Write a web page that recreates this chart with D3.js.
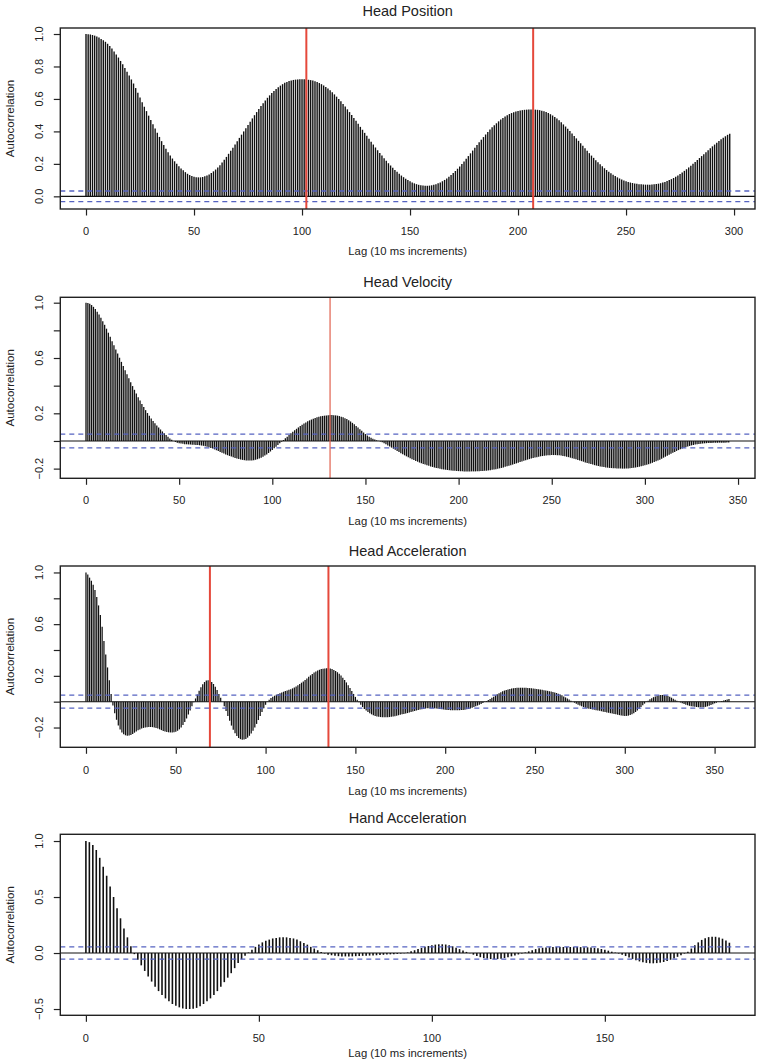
<!DOCTYPE html>
<html><head><meta charset="utf-8">
<script src="https://cdn.jsdelivr.net/npm/d3@7"></script>
<style>
body{margin:0;background:#fff}
svg{display:block}
text{font-family:"Liberation Sans",Arial,sans-serif;fill:#222}
</style>
</head><body>
<svg id="chart" width="759" height="1063"></svg>
<script>
// ---------- DATA (autocorrelation per lag, lag = index) ----------
const headPosition = [
1.000,0.999,0.997,0.994,0.990,0.985,0.978,0.970,0.962,0.952,
0.940,0.926,0.910,0.893,0.874,0.855,0.834,0.813,0.791,0.768,
0.744,0.720,0.695,0.667,0.638,0.609,0.580,0.552,0.525,0.497,
0.470,0.444,0.418,0.392,0.366,0.340,0.316,0.293,0.272,0.252,
0.233,0.216,0.200,0.186,0.172,0.160,0.149,0.139,0.131,0.125,
0.121,0.118,0.117,0.117,0.119,0.123,0.128,0.135,0.144,0.154,
0.165,0.178,0.192,0.208,0.225,0.243,0.262,0.281,0.300,0.320,
0.340,0.360,0.380,0.400,0.420,0.440,0.460,0.480,0.500,0.519,
0.538,0.556,0.574,0.591,0.607,0.622,0.636,0.649,0.661,0.672,
0.682,0.691,0.699,0.705,0.710,0.714,0.717,0.719,0.720,0.721,
0.721,0.721,0.720,0.718,0.716,0.713,0.709,0.704,0.698,0.691,
0.683,0.674,0.664,0.653,0.641,0.628,0.614,0.600,0.585,0.569,
0.553,0.536,0.519,0.501,0.483,0.465,0.447,0.428,0.410,0.391,
0.373,0.355,0.337,0.319,0.301,0.284,0.267,0.251,0.235,0.219,
0.204,0.190,0.176,0.163,0.151,0.139,0.128,0.118,0.109,0.100,
0.093,0.086,0.080,0.075,0.071,0.068,0.066,0.065,0.065,0.066,
0.068,0.071,0.075,0.080,0.086,0.093,0.101,0.110,0.120,0.131,
0.143,0.156,0.170,0.184,0.199,0.215,0.231,0.248,0.265,0.282,
0.299,0.316,0.333,0.349,0.365,0.381,0.396,0.411,0.425,0.438,
0.450,0.462,0.473,0.483,0.492,0.500,0.507,0.513,0.518,0.522,
0.526,0.529,0.531,0.533,0.534,0.535,0.535,0.535,0.534,0.533,
0.531,0.528,0.524,0.519,0.513,0.506,0.498,0.489,0.479,0.468,
0.456,0.443,0.430,0.416,0.402,0.387,0.372,0.357,0.342,0.327,
0.311,0.296,0.281,0.266,0.251,0.237,0.223,0.210,0.197,0.185,
0.173,0.162,0.152,0.142,0.133,0.125,0.117,0.110,0.104,0.098,
0.093,0.089,0.085,0.082,0.079,0.077,0.075,0.074,0.073,0.072,
0.072,0.072,0.073,0.074,0.076,0.078,0.081,0.085,0.089,0.094,
0.100,0.106,0.113,0.121,0.129,0.138,0.147,0.157,0.167,0.178,
0.189,0.200,0.212,0.224,0.236,0.248,0.260,0.272,0.284,0.296,
0.308,0.319,0.330,0.341,0.351,0.361,0.370,0.379,0.385
];

const headVelocity = [
1.000,0.998,0.992,0.983,0.970,0.954,0.935,0.914,0.891,0.866,
0.840,0.812,0.783,0.753,0.722,0.692,0.662,0.632,0.602,0.572,
0.542,0.512,0.483,0.454,0.425,0.397,0.370,0.343,0.317,0.292,
0.268,0.245,0.223,0.202,0.182,0.163,0.145,0.128,0.112,0.097,
0.083,0.069,0.056,0.043,0.030,0.018,0.008,0.000,-0.007,-0.012,
-0.016,-0.019,-0.021,-0.023,-0.024,-0.025,-0.026,-0.027,-0.028,-0.029,
-0.030,-0.031,-0.033,-0.035,-0.038,-0.041,-0.045,-0.050,-0.055,-0.061,
-0.067,-0.073,-0.079,-0.085,-0.091,-0.097,-0.103,-0.108,-0.113,-0.118,
-0.123,-0.127,-0.131,-0.134,-0.137,-0.139,-0.141,-0.142,-0.142,-0.141,
-0.139,-0.136,-0.132,-0.127,-0.121,-0.114,-0.106,-0.097,-0.087,-0.076,
-0.065,-0.053,-0.041,-0.029,-0.017,-0.005,0.007,0.019,0.031,0.043,
0.055,0.066,0.077,0.088,0.098,0.108,0.117,0.126,0.134,0.142,
0.149,0.155,0.161,0.166,0.171,0.175,0.178,0.181,0.183,0.185,
0.186,0.187,0.187,0.186,0.185,0.183,0.180,0.176,0.171,0.165,
0.158,0.150,0.141,0.131,0.120,0.109,0.097,0.085,0.073,0.061,
0.050,0.040,0.031,0.023,0.016,0.010,0.005,0.001,-0.004,-0.010,
-0.017,-0.024,-0.032,-0.040,-0.048,-0.056,-0.064,-0.072,-0.080,-0.088,
-0.096,-0.104,-0.111,-0.118,-0.125,-0.132,-0.138,-0.144,-0.150,-0.156,
-0.161,-0.166,-0.171,-0.176,-0.180,-0.184,-0.188,-0.192,-0.195,-0.198,
-0.201,-0.204,-0.206,-0.208,-0.210,-0.212,-0.214,-0.215,-0.216,-0.217,
-0.218,-0.219,-0.219,-0.220,-0.220,-0.220,-0.220,-0.220,-0.220,-0.220,
-0.219,-0.219,-0.218,-0.217,-0.216,-0.215,-0.213,-0.211,-0.209,-0.207,
-0.204,-0.201,-0.198,-0.195,-0.191,-0.187,-0.183,-0.179,-0.175,-0.171,
-0.166,-0.162,-0.157,-0.152,-0.148,-0.143,-0.139,-0.135,-0.131,-0.127,
-0.123,-0.120,-0.117,-0.114,-0.111,-0.109,-0.107,-0.105,-0.104,-0.103,
-0.102,-0.102,-0.102,-0.103,-0.104,-0.106,-0.108,-0.111,-0.114,-0.117,
-0.121,-0.125,-0.129,-0.133,-0.137,-0.141,-0.146,-0.150,-0.155,-0.159,
-0.163,-0.167,-0.171,-0.175,-0.178,-0.181,-0.184,-0.187,-0.189,-0.191,
-0.193,-0.195,-0.196,-0.197,-0.198,-0.199,-0.199,-0.200,-0.200,-0.200,
-0.199,-0.199,-0.198,-0.196,-0.194,-0.192,-0.189,-0.186,-0.183,-0.180,
-0.176,-0.172,-0.168,-0.163,-0.158,-0.153,-0.147,-0.141,-0.135,-0.128,
-0.121,-0.114,-0.107,-0.100,-0.093,-0.086,-0.079,-0.072,-0.066,-0.060,
-0.054,-0.049,-0.044,-0.040,-0.036,-0.032,-0.029,-0.026,-0.024,-0.022,
-0.020,-0.018,-0.017,-0.016,-0.015,-0.014,-0.014,-0.013,-0.013,-0.013,
-0.012,-0.012,-0.012,-0.012,-0.011,-0.011
];

const headAcceleration = [
1.000,0.985,0.960,0.935,0.905,0.865,0.810,0.745,0.670,0.580,
0.470,0.365,0.265,0.165,0.060,-0.030,-0.090,-0.140,-0.185,-0.215,
-0.238,-0.252,-0.260,-0.263,-0.262,-0.258,-0.250,-0.240,-0.230,-0.222,
-0.215,-0.208,-0.203,-0.199,-0.197,-0.196,-0.196,-0.197,-0.199,-0.203,
-0.208,-0.214,-0.220,-0.226,-0.231,-0.235,-0.237,-0.238,-0.238,-0.236,
-0.232,-0.225,-0.214,-0.199,-0.180,-0.157,-0.130,-0.100,-0.068,-0.035,
-0.005,0.025,0.055,0.085,0.112,0.135,0.152,0.163,0.166,0.163,
0.153,0.137,0.115,0.090,0.060,0.030,0.000,-0.035,-0.072,-0.110,
-0.148,-0.185,-0.218,-0.245,-0.266,-0.281,-0.290,-0.294,-0.293,-0.288,
-0.278,-0.264,-0.246,-0.225,-0.200,-0.172,-0.142,-0.111,-0.080,-0.050,
-0.024,-0.002,0.015,0.028,0.038,0.046,0.053,0.059,0.065,0.071,
0.077,0.082,0.087,0.092,0.097,0.103,0.110,0.118,0.127,0.137,
0.147,0.157,0.168,0.180,0.192,0.204,0.215,0.225,0.234,0.241,
0.247,0.252,0.255,0.257,0.258,0.258,0.256,0.252,0.246,0.238,
0.228,0.216,0.202,0.186,0.168,0.149,0.128,0.106,0.083,0.060,
0.037,0.015,-0.005,-0.024,-0.041,-0.056,-0.069,-0.080,-0.090,-0.098,
-0.105,-0.110,-0.114,-0.117,-0.119,-0.120,-0.121,-0.121,-0.120,-0.119,
-0.117,-0.115,-0.112,-0.109,-0.105,-0.102,-0.098,-0.095,-0.091,-0.088,
-0.084,-0.080,-0.076,-0.072,-0.068,-0.064,-0.061,-0.058,-0.055,-0.053,
-0.051,-0.050,-0.050,-0.050,-0.051,-0.052,-0.054,-0.056,-0.058,-0.060,
-0.062,-0.064,-0.065,-0.066,-0.067,-0.067,-0.067,-0.067,-0.066,-0.065,
-0.064,-0.062,-0.059,-0.056,-0.052,-0.047,-0.042,-0.036,-0.030,-0.024,
-0.017,-0.010,-0.003,0.005,0.013,0.021,0.030,0.039,0.048,0.057,
0.065,0.073,0.080,0.086,0.091,0.095,0.099,0.102,0.104,0.106,
0.107,0.108,0.108,0.108,0.108,0.107,0.106,0.105,0.104,0.102,
0.100,0.098,0.096,0.094,0.092,0.089,0.087,0.084,0.081,0.078,
0.075,0.071,0.067,0.062,0.056,0.049,0.041,0.033,0.025,0.016,
0.008,0.000,-0.008,-0.016,-0.023,-0.030,-0.036,-0.041,-0.046,-0.050,
-0.054,-0.057,-0.060,-0.063,-0.066,-0.069,-0.071,-0.074,-0.077,-0.080,
-0.083,-0.086,-0.089,-0.092,-0.095,-0.098,-0.101,-0.104,-0.107,-0.109,
-0.110,-0.110,-0.108,-0.104,-0.098,-0.090,-0.080,-0.068,-0.055,-0.041,
-0.028,-0.015,-0.003,0.008,0.018,0.027,0.035,0.041,0.046,0.049,
0.051,0.052,0.051,0.048,0.044,0.038,0.031,0.023,0.015,0.008,
0.001,-0.006,-0.012,-0.018,-0.023,-0.028,-0.032,-0.035,-0.038,-0.040,
-0.042,-0.043,-0.044,-0.044,-0.043,-0.040,-0.036,-0.031,-0.025,-0.019,
-0.013,-0.008,-0.003,0.001,0.005,0.009,0.013,0.017,0.021
];

const handAcceleration = [
1.00,0.99,0.965,0.92,0.85,0.77,0.69,0.595,0.50,0.40,
0.31,0.22,0.14,0.06,-0.01,-0.06,-0.11,-0.16,-0.21,-0.255,
-0.30,-0.34,-0.375,-0.405,-0.43,-0.455,-0.47,-0.485,-0.495,-0.50,
-0.50,-0.497,-0.49,-0.475,-0.455,-0.43,-0.405,-0.375,-0.34,-0.30,
-0.26,-0.22,-0.18,-0.135,-0.09,-0.055,-0.025,0.005,0.03,0.055,
0.075,0.095,0.11,0.12,0.13,0.135,0.14,0.14,0.14,0.135,
0.13,0.12,0.105,0.09,0.075,0.055,0.04,0.025,0.01,-0.005,
-0.015,-0.02,-0.025,-0.028,-0.03,-0.03,-0.03,-0.03,-0.028,-0.027,
-0.025,-0.024,-0.023,-0.022,-0.02,-0.018,-0.016,-0.014,-0.012,-0.01,
-0.008,-0.005,-0.002,0.005,0.015,0.025,0.035,0.045,0.055,0.063,
0.07,0.075,0.078,0.078,0.076,0.07,0.06,0.048,0.035,0.022,
0.01,-0.002,-0.015,-0.027,-0.037,-0.045,-0.05,-0.054,-0.055,-0.054,
-0.05,-0.045,-0.038,-0.03,-0.022,-0.013,-0.005,0.005,0.015,0.025,
0.035,0.042,0.047,0.05,0.052,0.053,0.054,0.054,0.054,0.054,
0.054,0.054,0.053,0.053,0.052,0.051,0.049,0.046,0.042,0.036,
0.029,0.021,0.012,0.004,-0.005,-0.015,-0.027,-0.04,-0.053,-0.065,
-0.075,-0.083,-0.088,-0.091,-0.092,-0.09,-0.086,-0.08,-0.071,-0.06,
-0.048,-0.034,-0.02,-0.005,0.012,0.04,0.07,0.095,0.117,0.132,
0.142,0.146,0.145,0.139,0.128,0.112,0.092
];

const panelTitles = ["Head Position","Head Velocity","Head Acceleration","Hand Acceleration"];
const xAxisTitle = "Lag (10 ms increments)";
const yAxisTitle = "Autocorrelation";

const xTicks1 = [0,50,100,150,200,250,300];
const xTicks2 = [0,50,100,150,200,250,300,350];
const xTicks3 = [0,50,100,150,200,250,300,350];
const xTicks4 = [0,50,100,150];

const yTicks1 = [0,0.2,0.4,0.6,0.8,1.0];
const yTickLabels1 = ["0.0","0.2","0.4","0.6","0.8","1.0"];
const yTicks2 = [-0.2,0,0.2,0.4,0.6,0.8,1.0];
const yTickLabels2 = ["\u22120.2","","0.2","","0.6","","1.0"];
const yTicks3 = [-0.2,0,0.2,0.4,0.6,0.8,1.0];
const yTickLabels3 = ["\u22120.2","","0.2","","0.6","","1.0"];
const yTicks4 = [-0.5,0,0.5,1.0];
const yTickLabels4 = ["\u22120.5","0.0","0.5","1.0"];

const peakLags1 = [102,207];
const peakLags2 = [131];
const peakLags3 = [69,135];
const peakLags4 = [];

const ciBound1 = 0.033, ciBound2 = 0.05, ciBound3 = 0.05, ciBound4 = 0.055;

// ---------- LAYOUT ----------
const plotLeft = 60.3, plotRight = 755;
const panels = [
  {title:panelTitles[0], values:headPosition, xTicks:xTicks1, yTicks:yTicks1, yLabels:yTickLabels1, peaks:peakLags1, ci:ciBound1,
   top:28, bottom:209, xDom:[-11.9,309.7], yDom:[-0.078,1.037], barW:1.4, redW:2.0, redC:"#e5483b", titleY:11, tickY:231, labY:251.5},
  {title:panelTitles[1], values:headVelocity, xTicks:xTicks2, yTicks:yTicks2, yLabels:yTickLabels2, peaks:peakLags2, ci:ciBound2,
   top:297.3, bottom:478.3, xDom:[-13.8,359.1], yDom:[-0.270,1.039], barW:1.3, redW:1.2, redC:"#e0604f", titleY:281.7, tickY:500, labY:521},
  {title:panelTitles[2], values:headAcceleration, xTicks:xTicks3, yTicks:yTicks3, yLabels:yTickLabels3, peaks:peakLags3, ci:ciBound3,
   top:566, bottom:747.3, xDom:[-14.3,372.5], yDom:[-0.353,1.050], barW:1.25, redW:2.0, redC:"#e5483b", titleY:550.7, tickY:770, labY:791},
  {title:panelTitles[3], values:handAcceleration, xTicks:xTicks4, yTicks:yTicks4, yLabels:yTickLabels4, peaks:peakLags4, ci:ciBound4,
   top:834.3, bottom:1015.3, xDom:[-7.4,193.4], yDom:[-0.556,1.060], barW:1.6, redW:2.0, redC:"#e5483b", titleY:818, tickY:1038, labY:1053}
];

const svg = d3.select("#chart");

panels.forEach(p => {
  const x = d3.scaleLinear().domain(p.xDom).range([plotLeft, plotRight]);
  const y = d3.scaleLinear().domain(p.yDom).range([p.bottom, p.top]);
  const g = svg.append("g");

  // bars
  g.append("g").selectAll("line").data(p.values).join("line")
    .attr("x1", (d,i) => x(i)).attr("x2", (d,i) => x(i))
    .attr("y1", y(0)).attr("y2", d => y(d))
    .attr("stroke", "#111").attr("stroke-width", p.barW);

  // confidence bounds
  [p.ci, -p.ci].forEach(c => {
    g.append("line").attr("x1", plotLeft).attr("x2", plotRight)
      .attr("y1", y(c)).attr("y2", y(c))
      .attr("stroke", "#5563c1").attr("stroke-width", 1.3)
      .attr("stroke-dasharray", "5,4");
  });

  // zero line
  g.append("line").attr("x1", plotLeft).attr("x2", plotRight)
    .attr("y1", y(0)).attr("y2", y(0))
    .attr("stroke", "#111").attr("stroke-width", 1.1);

  // red peak markers
  g.append("g").selectAll("line").data(p.peaks).join("line")
    .attr("x1", d => x(d)).attr("x2", d => x(d))
    .attr("y1", p.top).attr("y2", p.bottom)
    .attr("stroke", p.redC).attr("stroke-width", p.redW);

  // box
  g.append("rect").attr("x", plotLeft).attr("y", p.top)
    .attr("width", plotRight - plotLeft).attr("height", p.bottom - p.top)
    .attr("fill", "none").attr("stroke", "#222").attr("stroke-width", 1.4);

  // x axis
  const xa = g.append("g").attr("transform", `translate(0,${p.bottom})`)
    .call(d3.axisBottom(x).tickValues(p.xTicks).tickSize(6.5).tickFormat(""));
  xa.select(".domain").remove();
  xa.selectAll(".tick line").attr("stroke", "#222").attr("stroke-width", 1.2);
  g.append("g").selectAll("text").data(p.xTicks).join("text")
    .attr("x", d => x(d)).attr("y", p.tickY).attr("dy", "0.35em")
    .attr("text-anchor", "middle").attr("font-size", 11).text(d => d);

  // y axis
  const ya = g.append("g").attr("transform", `translate(${plotLeft},0)`)
    .call(d3.axisLeft(y).tickValues(p.yTicks).tickSize(6.5).tickFormat(""));
  ya.select(".domain").remove();
  ya.selectAll(".tick line").attr("stroke", "#222").attr("stroke-width", 1.2);
  g.append("g").selectAll("text").data(p.yTicks.map((t,i) => ({t, l:p.yLabels[i]})).filter(d => d.l !== "")).join("text")
    .attr("transform", d => `translate(39,${y(d.t)}) rotate(-90)`)
    .attr("dy", "0.35em").attr("text-anchor", "middle").attr("font-size", 11)
    .text(d => d.l);

  // titles
  g.append("text").attr("x", (plotLeft + plotRight)/2).attr("y", p.titleY).attr("dy", "0.35em")
    .attr("text-anchor", "middle").attr("font-size", 14.5).text(p.title);
  g.append("text").attr("x", (plotLeft + plotRight)/2).attr("y", p.labY).attr("dy", "0.35em")
    .attr("text-anchor", "middle").attr("font-size", 11.3).text(xAxisTitle);
  g.append("text").attr("transform", `translate(10,${(p.top + p.bottom)/2}) rotate(-90)`)
    .attr("dy", "0.35em").attr("text-anchor", "middle").attr("font-size", 11.5).text(yAxisTitle);
});
</script>
</body></html>
